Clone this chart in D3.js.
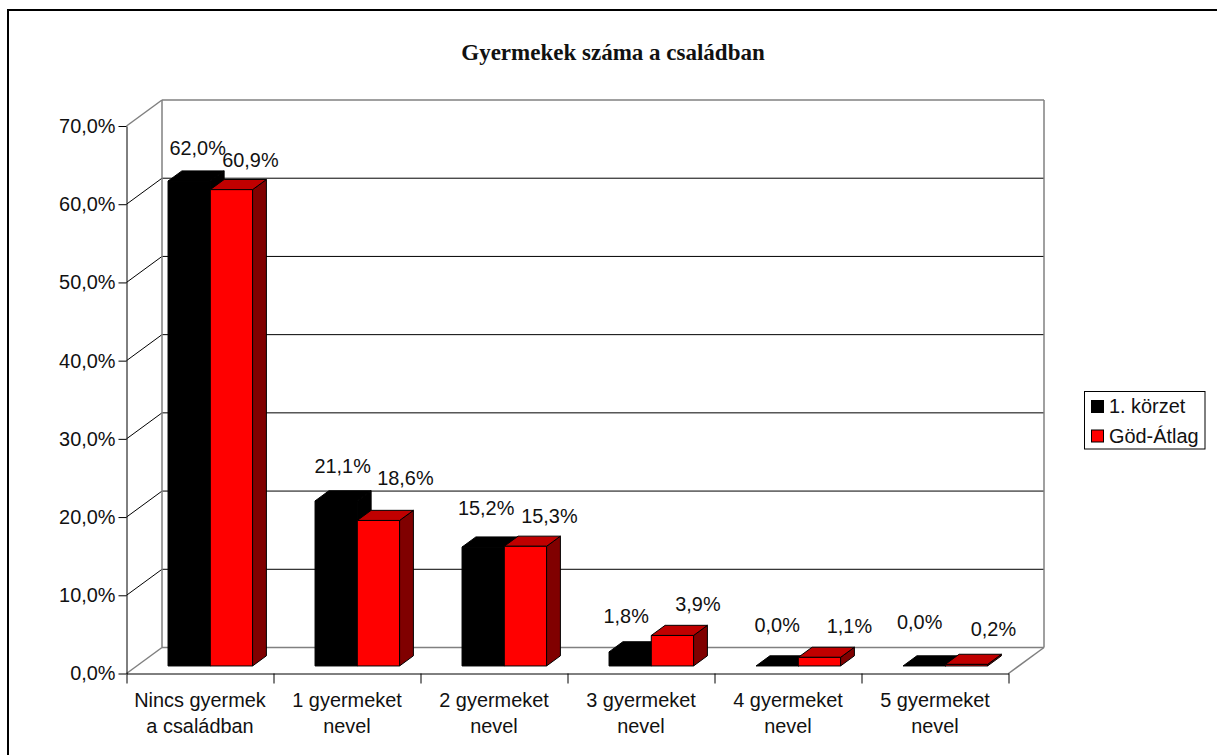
<!DOCTYPE html>
<html>
<head>
<meta charset="utf-8">
<script src="https://cdn.jsdelivr.net/npm/d3@7"></script>
<style>
  html, body { margin: 0; padding: 0; background: #fff; overflow: hidden; }
  text { font-family: "Liberation Sans", Arial, sans-serif; fill: #111; }
  .title { font-family: "Liberation Serif", "Times New Roman", serif; font-weight: bold; font-size: 23px; }
  .axis text, .bar-label, .legend text { font-size: 19.9px; }
</style>
</head>
<body>
<div id="chart"></div>
<script>
const categories = [['Nincs gyermek', 'a családban'], ['1 gyermeket', 'nevel'], ['2 gyermeket', 'nevel'],
                    ['3 gyermeket', 'nevel'], ['4 gyermeket', 'nevel'], ['5 gyermeket', 'nevel']];
const seriesNames = ['1. körzet', 'Göd-Átlag'];
const korzet = [62.0, 21.1, 15.2, 1.8, 0.0, 0.0];
const godAtlag = [60.9, 18.6, 15.3, 3.9, 1.1, 0.2];
const yTicks = [0, 10, 20, 30, 40, 50, 60, 70];

const width = 1217, height = 755;
const floorY = 673.5, topY = 126, leftX = 126.5, rightX = 1008.5;
const depthX = 35.5, depthY = 26;   // 3d shift from front plane to back wall
const barDepth = 0.39, barInset = 0.29;

// label offsets from the top centre of each bar's front face, they don't follow a rule in the original
const labelShift = [
  [[8.5, -26], [6.5, -28], [3, -32], [-4, -29], [0, -34], [-4.5, -37]],
  [[19, -23], [27, -35.5], [24, -23], [25.5, -24.5], [30, -24.5], [27, -28]]
];

const pct = d => d.toFixed(1).replace('.', ',') + '%';

const svg = d3.select('#chart').append('svg')
    .attr('width', width)
    .attr('height', height)
    .style('display', 'block');

const xScale = d3.scaleBand()
    .domain(d3.range(categories.length))
    .range([leftX, rightX])
    .paddingInner(0.425)
    .paddingOuter(0.2125);
const xOuter = d3.scaleLinear().domain([0, categories.length]).range([leftX, rightX]);
const xSeries = d3.scaleBand().domain([0, 1]).range([0, xScale.bandwidth()]);
const yScale = d3.scaleLinear().domain([0, 70]).range([floorY, topY]);

const line = (g, x1, y1, x2, y2, color, w) => g.append('line')
    .attr('x1', x1).attr('y1', y1).attr('x2', x2).attr('y2', y2)
    .attr('stroke', color).attr('stroke-width', w);

// frame, only left and top show
svg.append('path')
    .attr('d', 'M8,' + height + 'V10H' + width)
    .attr('fill', 'none').attr('stroke', '#000').attr('stroke-width', 2);

svg.append('text')
    .attr('class', 'title')
    .attr('x', 613).attr('y', 60)
    .attr('text-anchor', 'middle')
    .text('Gyermekek száma a családban');

// walls
const walls = svg.append('g');
yTicks.slice(1, -1).forEach(t => {
  const y = yScale(t);
  line(walls, leftX, y, leftX + depthX, y - depthY, '#000', 1);
  line(walls, leftX + depthX, y - depthY, rightX + depthX, y - depthY, '#000', 1);
});
const gray = '#808080';
line(walls, leftX + depthX, topY - depthY, rightX + depthX, topY - depthY, gray, 1.5);
line(walls, leftX + depthX, topY - depthY, leftX + depthX, floorY - depthY, gray, 1.5);
line(walls, rightX + depthX, topY - depthY, rightX + depthX, floorY - depthY, gray, 1.5);
line(walls, leftX + depthX, floorY - depthY, rightX + depthX, floorY - depthY, gray, 1.5);
line(walls, leftX, topY, leftX + depthX, topY - depthY, gray, 1.5);
line(walls, leftX, floorY, leftX + depthX, floorY - depthY, gray, 1.5);
line(walls, rightX, floorY, rightX + depthX, floorY - depthY, gray, 1.5);

// axes
const yAxis = svg.append('g')
    .attr('class', 'axis')
    .attr('transform', 'translate(' + leftX + ',0)')
    .call(d3.axisLeft(yScale).tickValues(yTicks).tickFormat(pct).tickSize(8).tickSizeOuter(0));
yAxis.selectAll('text').attr('x', -11).attr('dy', '0.32em');

svg.append('g')
    .attr('class', 'axis')
    .attr('transform', 'translate(0,' + floorY + ')')
    .call(d3.axisBottom(xOuter).tickValues(d3.range(categories.length + 1)).tickFormat('').tickSize(10).tickSizeOuter(0));
svg.selectAll('.axis path, .axis line').attr('stroke', '#000').attr('stroke-width', 1);

const xLabels = svg.append('g').attr('class', 'axis');
xLabels.selectAll('text')
    .data(categories)
  .enter().append('text')
    .attr('text-anchor', 'middle')
    .attr('transform', (d, i) => 'translate(' + (xOuter(i) + xOuter(i + 1)) / 2 + ',707)')
    .selectAll('tspan')
    .data(d => d)
  .enter().append('tspan')
    .attr('x', 0)
    .attr('y', (d, i) => i * 25.5)
    .text(d => d);

// bars: black first, red sits in front of it
const styles = [
  { front: '#000', top: '#000', side: '#000' },
  { front: '#ff0000', top: '#c00000', side: '#800000' }
];
const insetX = barInset * depthX, insetY = barInset * depthY;
const dX = barDepth * depthX, dY = barDepth * depthY;
const barLeft = (i, s) => xScale(i) + xSeries(s) + insetX;

const bars = svg.append('g');
[korzet, godAtlag].forEach((values, s) => {
  const g = bars.append('g').attr('stroke', '#000').attr('stroke-width', 1).attr('stroke-linejoin', 'round');
  values.forEach((v, i) => {
    const x0 = barLeft(i, s),
          x1 = x0 + xSeries.bandwidth(),
          y0 = yScale(0) - insetY,
          yv = yScale(v) - insetY;
    g.append('polygon')
        .attr('points', [[x1, y0], [x1 + dX, y0 - dY], [x1 + dX, yv - dY], [x1, yv]].join(' '))
        .attr('fill', styles[s].side);
    g.append('polygon')
        .attr('points', [[x0, yv], [x0 + dX, yv - dY], [x1 + dX, yv - dY], [x1, yv]].join(' '))
        .attr('fill', styles[s].top);
    g.append('rect')
        .attr('x', x0).attr('y', yv)
        .attr('width', x1 - x0).attr('height', y0 - yv)
        .attr('fill', styles[s].front);
  });
});

// data labels
const labels = svg.append('g');
[korzet, godAtlag].forEach((values, s) => {
  labels.selectAll('text.s' + s)
      .data(values)
    .enter().append('text')
      .attr('class', 'bar-label s' + s)
      .attr('text-anchor', 'middle')
      .attr('x', (d, i) => barLeft(i, s) + xSeries.bandwidth() / 2 + labelShift[s][i][0])
      .attr('y', (d, i) => yScale(d) - insetY + labelShift[s][i][1])
      .text(pct);
});

// legend
const legend = svg.append('g').attr('class', 'legend');
legend.append('rect')
    .attr('x', 1084.5).attr('y', 391.5).attr('width', 120.5).attr('height', 57.5)
    .attr('fill', '#fff').attr('stroke', '#000').attr('stroke-width', 1);
seriesNames.forEach((name, s) => {
  legend.append('rect')
      .attr('x', 1091.5).attr('y', 400.5 + s * 29.5).attr('width', 12).attr('height', 12)
      .attr('fill', styles[s].front).attr('stroke', '#000');
  legend.append('text')
      .attr('x', 1109).attr('y', 413 + s * 30)
      .text(name);
});
</script>
</body>
</html>
